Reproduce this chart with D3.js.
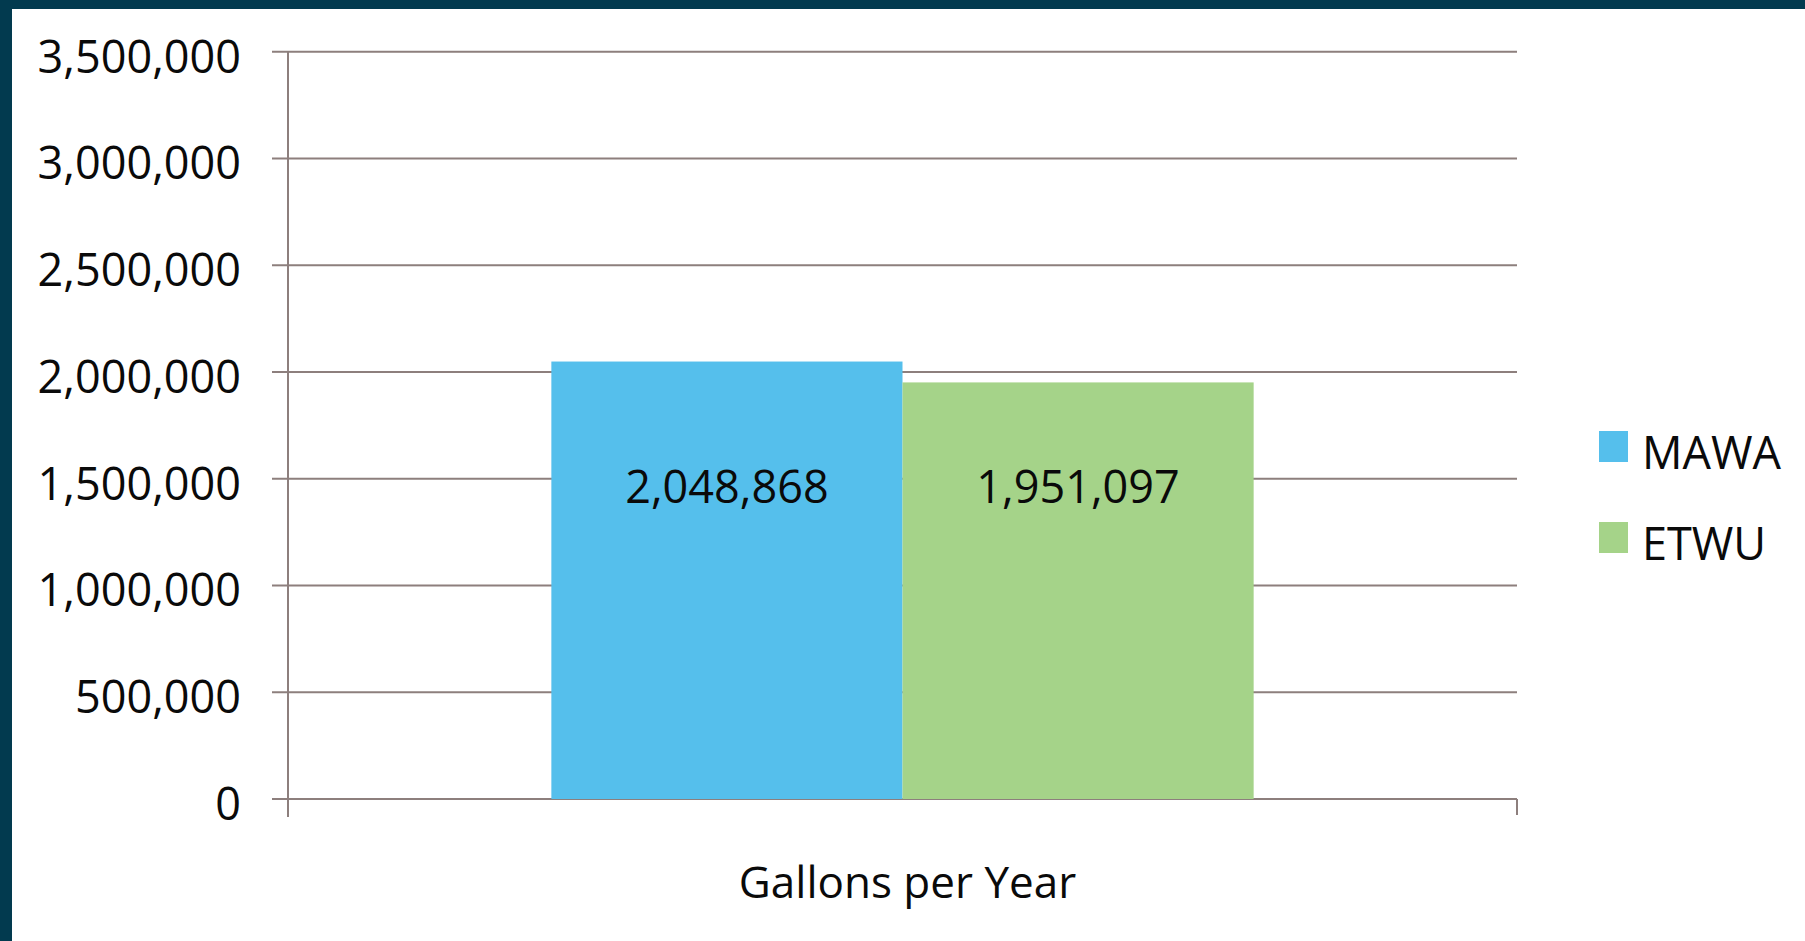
<!DOCTYPE html>
<html>
<head>
<meta charset="utf-8">
<script src="https://cdn.jsdelivr.net/npm/d3@7"></script>
<style>
  html, body { margin: 0; padding: 0; background: #ffffff; }
  svg { display: block; }
  text { font-family: "Open Sans", "Noto Sans", sans-serif; fill: #0a0a0a; }
</style>
</head>
<body>
<svg id="chart" width="1805" height="941"></svg>
<script>
// ---- data ----
const categories = ["Gallons per Year"];
const seriesNames = ["MAWA", "ETWU"];
const seriesValues = [2048868, 1951097];
const seriesColors = ["#55bfec", "#a5d389"];
const yTicks = [0, 500000, 1000000, 1500000, 2000000, 2500000, 3000000, 3500000];

// ---- layout ----
const W = 1805, H = 941;
const plot = { left: 288, right: 1517, top: 51.7, bottom: 799 };
const svg = d3.select("#chart");

// background & frame
svg.append("rect").attr("x", 0).attr("y", 0).attr("width", W).attr("height", H).attr("fill", "#ffffff");
svg.append("rect").attr("x", 0).attr("y", 0).attr("width", W).attr("height", 9).attr("fill", "#023a4f");
svg.append("rect").attr("x", 0).attr("y", 0).attr("width", 12).attr("height", H).attr("fill", "#023a4f");

const y = d3.scaleLinear().domain([0, 3500000]).range([plot.bottom, plot.top]);
const x0 = d3.scaleBand().domain(categories).range([plot.left, plot.right]).paddingInner(0).paddingOuter(0.375);
const x1 = d3.scaleBand().domain(seriesNames).range([0, x0.bandwidth()]).padding(0);

const lineColor = "#8d7f7d";

// gridlines
svg.append("g").selectAll("line").data(yTicks).join("line")
  .attr("x1", plot.left - 16).attr("x2", plot.right)
  .attr("y1", d => y(d)).attr("y2", d => y(d))
  .attr("stroke", lineColor).attr("stroke-width", 2);

// y axis line
svg.append("line")
  .attr("x1", plot.left).attr("x2", plot.left)
  .attr("y1", plot.top).attr("y2", plot.bottom + 18)
  .attr("stroke", lineColor).attr("stroke-width", 2);

// x-axis end tick
svg.append("line")
  .attr("x1", plot.right).attr("x2", plot.right)
  .attr("y1", plot.bottom).attr("y2", plot.bottom + 16)
  .attr("stroke", lineColor).attr("stroke-width", 2);

// y tick labels
const fmt = d3.format(",");
svg.append("g").selectAll("text").data(yTicks).join("text")
  .attr("x", 241).attr("y", d => y(d) + 21)
  .attr("text-anchor", "end")
  .attr("font-size", 45)
  .text(d => fmt(d));

// bars
const g = svg.append("g").attr("transform", `translate(${x0(categories[0])},0)`);
g.selectAll("rect").data(seriesNames).join("rect")
  .attr("x", d => x1(d))
  .attr("width", x1.bandwidth())
  .attr("y", (d, i) => y(seriesValues[i]))
  .attr("height", (d, i) => y(0) - y(seriesValues[i]))
  .attr("fill", (d, i) => seriesColors[i]);

// value labels
g.selectAll("text.val").data(seriesNames).join("text")
  .attr("class", "val")
  .attr("x", d => x1(d) + x1.bandwidth() / 2)
  .attr("y", y(1500000) + 24)
  .attr("text-anchor", "middle")
  .attr("font-size", 45)
  .text((d, i) => fmt(seriesValues[i]));

// x category label
svg.append("text")
  .attr("x", x0(categories[0]) + x0.bandwidth() / 2 + 5)
  .attr("y", 898)
  .attr("text-anchor", "middle")
  .attr("font-size", 44)
  .text(categories[0]);

// legend
const legend = svg.append("g");
seriesNames.forEach((name, i) => {
  const ly = 446 + i * 91;
  legend.append("rect")
    .attr("x", 1599).attr("y", ly - 15).attr("width", 29).attr("height", 31)
    .attr("fill", seriesColors[i]);
  legend.append("text")
    .attr("x", 1642).attr("y", ly + 23)
    .attr("font-size", 45)
    .text(name);
});
</script>
</body>
</html>
